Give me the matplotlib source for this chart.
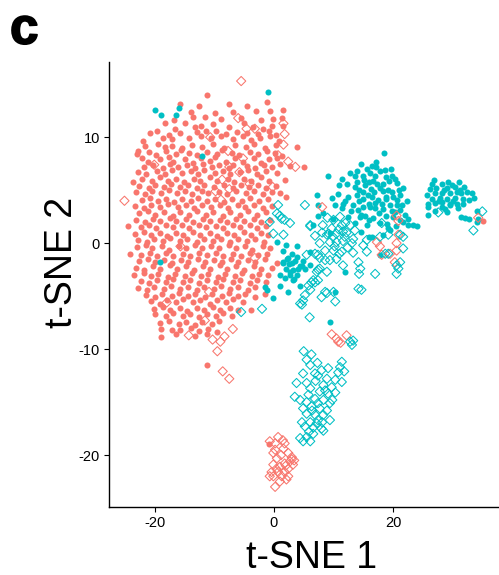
import matplotlib
matplotlib.use("Agg")
import matplotlib.pyplot as plt
import matplotlib.patheffects as pe

plt.rcParams['font.family'] = ['Liberation Sans', 'DejaVu Sans']
plt.rcParams['axes.unicode_minus'] = False

SALMON = '#F8766D'
CYAN = '#00BFC4'

# salmon, filled circles (main cloud)
salmon_dots = [
    (-11.2, 14.0), (-1.2, 13.3), (-7.5, 13.1), (-15.8, 13.1), (-4.5, 12.9), (1.5, 12.6), (-14.0, 12.4),
    (-6.9, 12.4), (-3.0, 12.5), (-0.7, 12.5), (-12.6, 12.9),
    (-16.8, 11.6), (-13.6, 11.9), (-11.5, 11.9), (-8.9, 11.7), (-5.5, 11.8), (-2.2, 11.6), (-0.1, 11.7),
    (1.3, 11.8), (-9.9, 12.3),
    (-18.3, 11.3), (-16.6, 10.8), (-14.9, 11.3), (-13.2, 11.0), (-12.3, 11.1), (-10.2, 11.2), (-7.5, 11.0),
    (-5.0, 11.3), (-3.5, 11.0), (-1.8, 10.8), (-0.4, 11.1), (1.6, 11.1),
    (-20.8, 10.4), (-19.7, 10.6), (-17.6, 10.2), (-15.7, 10.4), (-13.0, 10.5), (-11.4, 10.6), (-9.8, 10.6),
    (-8.1, 10.3), (-6.2, 10.5), (-4.5, 10.4), (-2.6, 10.3), (-0.9, 10.6), (0.4, 10.2),
    (-22.0, 9.6), (-18.6, 9.9), (-17.2, 9.8), (-14.3, 9.9), (-12.3, 10.1), (-10.6, 9.9), (-8.9, 10.1),
    (-6.9, 9.8), (-5.2, 10.1), (-3.8, 9.7), (-2.4, 9.9), (-0.7, 10.1), (0.9, 9.6),
    (-22.8, 8.7), (-21.7, 9.2), (-19.4, 9.4), (-18.3, 9.1), (-17.1, 9.2), (-15.5, 9.0), (-13.8, 9.3),
    (-12.0, 9.1), (-10.2, 9.4), (-8.4, 9.0), (-6.5, 9.3), (-4.7, 9.1), (-3.3, 9.4), (-1.5, 9.0), (0.3, 9.3),
    (3.9, 9.1),
    (-23.0, 8.4), (-20.9, 8.6), (-19.8, 8.3), (-18.1, 8.7), (-16.4, 8.4), (-15.6, 8.8), (-14.2, 8.5),
    (-12.9, 8.3), (-11.3, 8.6), (-9.6, 8.4), (-8.7, 8.8), (-7.1, 8.5), (-5.8, 8.3), (-4.0, 8.6), (-2.7, 8.4),
    (-1.2, 8.7), (0.2, 8.5), (1.4, 8.2),
    (-22.2, 8.0), (-21.1, 7.7), (-19.1, 7.9), (-17.6, 8.1), (-16.9, 7.7), (-15.0, 7.9), (-13.6, 7.6),
    (-12.2, 8.0), (-10.7, 7.8), (-9.9, 8.1), (-8.0, 7.7), (-6.5, 8.0), (-5.2, 7.7), (-3.4, 8.0), (-2.2, 7.6),
    (-0.9, 7.9), (0.6, 8.0),
    (-21.8, 7.2), (-20.3, 7.4), (-18.7, 7.1), (-17.4, 7.5), (-16.1, 7.2), (-14.6, 7.4), (-13.2, 7.1),
    (-11.9, 7.5), (-10.4, 7.2), (-9.3, 7.4), (-7.6, 7.1), (-6.8, 7.4), (-4.6, 7.3), (-3.1, 7.1), (-1.7, 7.4),
    (-0.3, 7.2), (1.1, 7.5), (2.7, 7.3), (5.0, 7.2),
    (-22.9, 6.7), (-21.4, 6.5), (-19.6, 6.8), (-18.3, 6.5), (-17.1, 6.9), (-15.4, 6.6), (-14.0, 6.8),
    (-12.7, 6.5), (-11.7, 6.9), (-9.9, 6.6), (-8.5, 6.8), (-7.3, 6.5), (-5.7, 6.7), (-4.3, 6.9), (-2.9, 6.5),
    (-1.3, 6.8), (0.5, 6.6),
    (-23.7, 5.8), (-22.1, 6.1), (-20.5, 5.9), (-19.2, 6.2), (-17.8, 5.9), (-16.4, 6.1), (-15.1, 5.8),
    (-13.4, 6.1), (-12.4, 5.9), (-10.7, 6.2), (-9.5, 5.9), (-7.7, 6.1), (-6.7, 5.8), (-5.1, 6.1), (-3.8, 5.9),
    (-2.1, 6.2), (-0.8, 5.9), (1.8, 6.0),
    (-22.6, 5.4), (-21.0, 5.2), (-19.9, 5.5), (-18.4, 5.3), (-17.3, 5.6), (-15.7, 5.3), (-14.5, 5.5),
    (-12.9, 5.2), (-11.8, 5.5), (-10.1, 5.3), (-8.4, 5.5), (-6.8, 5.2), (-5.5, 5.5), (-4.2, 5.3), (-2.6, 5.5),
    (-1.4, 5.2), (0.3, 5.4),
    (-23.2, 4.8), (-21.6, 4.6), (-20.4, 4.9), (-18.9, 4.7), (-17.6, 5.0), (-16.2, 4.7), (-14.9, 4.9),
    (-13.7, 4.6), (-12.1, 4.9), (-11.0, 4.7), (-9.2, 4.8), (-7.9, 4.6), (-6.3, 4.9), (-4.7, 4.7), (-3.4, 4.9),
    (-1.9, 4.6), (-0.4, 4.8), (1.0, 4.7),
    (-22.1, 4.1), (-20.8, 4.3), (-19.4, 4.0), (-18.1, 4.2), (-16.7, 3.9), (-15.5, 4.2), (-13.9, 4.0),
    (-12.7, 4.3), (-11.2, 4.0), (-9.9, 4.2), (-8.3, 3.9), (-7.0, 4.2), (-5.4, 4.0), (-4.1, 4.3), (-2.5, 4.0),
    (-1.0, 4.2), (2.0, 4.4),
    (-23.4, 3.5), (-21.9, 3.3), (-20.6, 3.6), (-19.1, 3.4), (-17.8, 3.7), (-16.1, 3.4), (-14.8, 3.6),
    (-13.5, 3.3), (-12.0, 3.6), (-10.6, 3.4), (-9.0, 3.6), (-7.7, 3.3), (-6.1, 3.6), (-4.9, 3.4), (-3.3, 3.6),
    (-1.9, 3.3), (-0.4, 3.5),
    (-22.7, 2.8), (-21.2, 3.0), (-20.0, 2.7), (-18.5, 2.9), (-17.0, 2.6), (-15.8, 2.9), (-14.2, 2.7),
    (-13.0, 3.0), (-11.4, 2.7), (-10.2, 2.9), (-8.6, 2.6), (-7.3, 2.9), (-5.7, 2.7), (-4.4, 3.0), (-2.8, 2.7),
    (-1.3, 2.9),
    (-23.1, 2.2), (-21.7, 2.0), (-20.3, 2.3), (-19.1, 2.1), (-17.5, 2.4), (-16.4, 2.1), (-14.7, 2.3),
    (-13.6, 2.0), (-11.9, 2.3), (-10.8, 2.1), (-9.1, 2.2), (-7.9, 2.0), (-6.3, 2.3), (-5.1, 2.1), (-3.4, 2.3),
    (-2.2, 2.0), (-0.6, 2.2),
    (-24.5, 1.6), (-22.4, 1.5), (-21.0, 1.7), (-19.8, 1.4), (-18.2, 1.7), (-17.0, 1.5), (-15.4, 1.7),
    (-14.2, 1.4), (-12.6, 1.7), (-11.4, 1.5), (-9.8, 1.6), (-8.5, 1.4), (-6.9, 1.7), (-5.7, 1.5), (-4.1, 1.7),
    (-2.9, 1.4), (-1.4, 1.6),
    (-23.3, 0.9), (-21.9, 1.1), (-20.7, 0.8), (-19.1, 1.0), (-17.9, 0.7), (-16.4, 1.0), (-15.2, 0.8),
    (-13.6, 1.1), (-12.4, 0.8), (-10.8, 1.0), (-9.6, 0.7), (-7.9, 1.0), (-6.7, 0.8), (-5.1, 1.1), (-3.9, 0.8),
    (-2.2, 1.0), (-1.0, 0.8),
    (-22.8, 0.3), (-21.3, 0.1), (-20.1, 0.4), (-18.6, 0.2), (-17.4, 0.5), (-15.8, 0.2), (-14.6, 0.4),
    (-13.0, 0.1), (-11.8, 0.4), (-10.2, 0.2), (-8.9, 0.4), (-7.3, 0.1), (-6.1, 0.4), (-4.5, 0.2), (-3.2, 0.4),
    (-1.6, 0.1),
    (-23.0, -0.4), (-21.5, -0.2), (-20.4, -0.5), (-18.8, -0.3), (-17.6, -0.6), (-16.0, -0.3), (-14.8, -0.5),
    (-13.3, -0.2), (-12.1, -0.5), (-10.5, -0.3), (-9.3, -0.5), (-7.6, -0.2), (-6.4, -0.5), (-4.8, -0.3),
    (-3.6, -0.6), (-1.9, -0.3), (-0.6, -0.5),
    (-24.1, -1.0), (-22.3, -1.1), (-20.8, -0.9), (-19.7, -1.2), (-18.1, -0.9), (-16.9, -1.2), (-15.3, -1.0),
    (-14.1, -1.2), (-12.5, -0.9), (-11.3, -1.1), (-9.7, -0.9), (-8.5, -1.2), (-6.9, -1.0), (-5.6, -1.2),
    (-4.0, -0.9), (-2.7, -1.1), (-1.1, -1.0),
    (-22.6, -1.7), (-21.1, -1.5), (-19.9, -1.8), (-18.4, -1.6), (-17.2, -1.9), (-15.6, -1.6), (-14.4, -1.8),
    (-12.8, -1.5), (-11.6, -1.8), (-10.0, -1.6), (-8.8, -1.8), (-7.2, -1.5), (-6.0, -1.8), (-4.3, -1.6),
    (-3.1, -1.8), (-1.5, -1.5), (0.5, -1.9),
    (-23.2, -2.3), (-21.8, -2.5), (-20.3, -2.2), (-19.1, -2.4), (-17.5, -2.1), (-16.3, -2.4), (-14.7, -2.2),
    (-13.5, -2.5), (-11.9, -2.2), (-10.7, -2.4), (-9.1, -2.1), (-7.9, -2.4), (-6.3, -2.2), (-5.0, -2.5),
    (-3.4, -2.2), (-2.1, -2.4), (-0.4, -2.3),
    (-23.5, -3.0), (-21.9, -2.8), (-20.6, -3.1), (-19.4, -2.9), (-17.8, -3.2), (-16.6, -2.9), (-15.0, -3.1),
    (-13.8, -2.8), (-12.2, -3.1), (-11.0, -2.9), (-9.4, -3.2), (-8.2, -2.9), (-6.5, -3.1), (-5.3, -2.8),
    (-3.7, -3.1), (-2.5, -2.9), (-1.0, -3.0),
    (-22.4, -3.6), (-20.9, -3.8), (-19.7, -3.5), (-18.1, -3.7), (-16.9, -3.4), (-15.3, -3.7), (-14.1, -3.5),
    (-12.5, -3.8), (-11.3, -3.5), (-9.7, -3.7), (-8.5, -3.4), (-6.9, -3.7), (-5.7, -3.5), (-4.0, -3.8),
    (-2.8, -3.5), (-1.3, -3.7),
    (-22.8, -4.2), (-21.3, -4.4), (-20.1, -4.1), (-18.5, -4.3), (-17.3, -4.0), (-15.7, -4.3), (-14.5, -4.1),
    (-12.9, -4.4), (-11.7, -4.1), (-10.1, -4.3), (-8.9, -4.0), (-7.3, -4.3), (-6.0, -4.1), (-4.4, -4.4),
    (-3.2, -4.1),
    (-21.5, -4.9), (-20.0, -5.1), (-18.8, -4.8), (-17.2, -5.0), (-16.0, -4.7), (-14.4, -5.0), (-13.2, -4.8),
    (-11.6, -5.1), (-10.4, -4.8), (-8.8, -5.0), (-7.6, -4.7), (-6.0, -5.0), (-4.8, -4.8), (-3.2, -5.1),
    (-1.5, -4.8),
    (-20.6, -5.5), (-19.2, -5.7), (-17.9, -5.4), (-16.4, -5.6), (-15.2, -5.3), (-13.6, -5.6), (-12.4, -5.4),
    (-10.8, -5.7), (-9.6, -5.4), (-8.0, -5.6), (-6.8, -5.3), (-5.2, -5.6),
    (-20.2, -6.2), (-18.6, -6.0), (-17.4, -6.3), (-15.8, -6.1), (-14.6, -6.4), (-13.0, -6.1), (-11.8, -6.3),
    (-10.2, -6.0), (-9.0, -6.3), (-7.3, -6.1), (-6.1, -6.3), (-3.8, -6.3),
    (-20.0, -6.7), (-18.2, -6.9), (-16.9, -6.6), (-15.3, -6.9), (-14.1, -6.7), (-12.5, -7.0), (-11.3, -6.7),
    (-9.7, -6.9), (-8.5, -6.6), (-7.0, -6.9),
    (-19.1, -7.5), (-17.6, -7.3), (-16.0, -7.6), (-14.8, -7.4), (-13.2, -7.7), (-12.0, -7.4), (-10.4, -7.6),
    (-9.2, -7.3),
    (-19.0, -8.1), (-17.1, -8.2), (-15.7, -8.2), (-14.0, -8.0), (-12.6, -8.3), (-11.0, -8.1), (-9.5, -8.4),
    (-19.0, -8.9), (-13.2, -8.8), (-11.2, -8.6), (-16.5, -8.6), (-11.2, -11.5),
    (-0.8, -19.0), (35.1, 2.1),
]

# cyan, filled circles
cyan_dots = [
    (-20.0, 12.6), (-19.0, 12.1), (-16.0, 12.8), (-16.5, 12.1), (-12.0, 8.2), (-1.0, 14.3), (-19.2, -1.8),
    # upper right group
    (18.5, 8.5), (14.6, 7.5), (17.1, 7.7), (17.1, 7.2), (19.6, 7.0), (18.7, 6.9), (17.8, 6.8), (15.6, 7.0),
    (16.1, 6.6), (12.8, 6.6), (9.1, 6.3), (11.4, 6.1), (13.6, 6.3), (14.9, 6.3), (17.0, 6.3), (18.8, 6.2),
    (19.8, 6.3), (12.2, 5.6), (13.9, 5.8), (15.9, 5.8), (17.3, 5.6), (20.6, 5.7), (13.6, 5.3), (15.0, 4.8),
    (16.3, 5.1), (17.8, 5.2), (19.2, 5.0), (21.7, 5.2), (7.3, 4.5), (9.7, 4.3), (12.5, 4.4), (15.0, 4.2),
    (16.4, 4.4), (17.5, 4.1), (18.8, 4.4), (20.0, 4.4), (21.2, 4.5), (22.4, 4.0), (11.6, 3.7), (13.3, 3.6),
    (15.9, 3.7), (18.1, 3.7), (19.5, 3.6), (20.7, 3.6), (11.4, 3.3), (14.2, 3.1), (17.0, 3.3), (21.2, 3.1),
    (12.5, 2.5), (15.3, 2.6), (16.7, 2.4), (18.8, 2.6), (20.0, 2.5), (10.0, 2.3), (7.4, 3.6), (13.6, 1.9),
    (17.8, 1.9), (21.7, 2.0), (23.4, 1.7), (15.6, 1.7),
    (16.5, 7.3), (14.0, 6.8), (15.3, 5.5), (14.3, 5.0), (16.8, 4.8), (18.3, 4.9), (19.9, 4.8), (20.6, 4.1),
    (14.3, 4.0), (13.9, 4.5), (16.2, 3.4), (17.6, 2.8), (18.4, 3.2), (19.8, 3.0), (20.4, 2.9), (21.5, 3.6),
    (22.0, 2.7), (14.6, 2.7), (13.0, 3.0), (12.0, 4.0), (10.8, 4.6), (11.0, 5.5), (8.3, 2.8), (10.3, 3.6),
    (15.2, 6.0), (16.6, 5.9), (18.3, 5.6), (19.4, 5.9), (21.0, 5.0), (20.3, 6.1), (15.8, 4.5), (17.0, 3.8),
    (18.9, 4.2), (15.0, 3.4), (16.0, 2.2), (19.0, 1.8), (20.5, 1.6), (22.5, 2.3), (14.7, 1.1), (16.4, 0.6),
    (19.2, 1.4), (21.2, 2.2), (22.6, 1.7), (19.5, 1.2), (18.4, 0.8), (15.9, 0.6), (17.8, -1.1), (14.5, 2.5),
    (7.4, 2.6), (6.6, 1.7), (9.5, 1.0), (11.9, -2.7), (10.3, -4.6), (9.4, -7.4), (24.0, 1.6),
    # middle group
    (0.5, 0.1), (3.8, -0.3), (1.6, -1.8), (2.4, -1.4), (3.0, -1.9), (3.8, -1.3), (4.4, -2.2), (5.2, -2.4),
    (6.1, -2.1), (2.1, -2.4), (3.2, -2.5), (2.7, -3.0), (3.2, -3.5), (4.4, -4.0), (1.0, -3.0), (1.0, -4.0),
    (-0.1, -5.2), (-1.2, -4.4), (-1.5, -4.1), (2.4, -4.6), (1.6, -0.7), (6.1, -0.8), (3.0, -1.0), (2.2, -1.5),
    (4.1, -2.4), (4.7, -2.2), (2.7, -2.7), (3.3, -3.4), (1.5, -1.9), (2.0, -0.2), (2.6, -2.0), (3.6, -1.7),
    (3.9, -3.0), (1.9, -3.3), (4.9, -1.7),
    # far right group
    (26.8, 6.0), (26.5, 5.6), (28.2, 5.6), (29.9, 5.5), (31.0, 5.8), (30.4, 5.3), (27.3, 5.2), (29.0, 5.2),
    (25.7, 4.5), (27.1, 4.7), (28.2, 4.7), (29.6, 4.7), (30.7, 4.8), (31.5, 4.7), (32.4, 4.8), (33.2, 4.7),
    (26.5, 4.2), (27.9, 4.3), (29.0, 4.2), (30.4, 4.3), (31.8, 4.2), (32.7, 4.1), (25.9, 3.7), (27.1, 3.8),
    (28.2, 3.9), (29.6, 3.7), (30.7, 3.7), (31.8, 3.7), (25.8, 3.4), (28.2, 3.4), (29.5, 3.6), (27.1, 3.0),
    (25.9, 2.7), (29.1, 2.9), (31.5, 2.5), (32.1, 2.4), (32.7, 2.3), (34.1, 3.0), (34.3, 2.3), (34.1, 2.0),
    (28.6, 5.0), (30.0, 4.0), (31.2, 5.0), (32.0, 5.3), (27.7, 4.0), (26.2, 5.1), (33.6, 4.3), (29.3, 5.8),
    (28.8, 3.2), (30.9, 3.3),
]

# salmon, open diamonds
salmon_diamonds = [
    (-5.5, 15.3), (-6.0, 11.8), (-4.6, 10.8), (-3.2, 10.8), (1.6, 11.3), (1.8, 10.3), (1.6, 9.3), (0.7, 8.3),
    (2.4, 7.7), (3.6, 7.2), (-10.7, 10.0), (-7.7, 8.7), (-5.2, 8.0), (-7.5, 7.2), (-5.8, 6.7), (-8.7, 6.0),
    (-9.8, 4.9), (-8.9, 4.1), (-7.5, 5.1), (-4.1, 5.6), (-0.2, 5.3), (-20.1, 7.4), (-25.1, 4.0),
    (-15.7, -0.3), (-3.2, -1.4), (-18.0, -5.6), (-10.9, -4.6), (-11.6, -7.3), (-14.3, -8.7), (-9.5, -10.2),
    (-10.3, -9.1), (-8.3, -8.8), (-6.9, -8.1), (-8.6, -12.1), (-7.5, -12.8), (-9.0, -9.3),
    (8.1, 3.4), (17.3, 0.1), (17.8, -0.3), (18.1, -1.1), (19.5, -1.0), (20.6, 0.0), (20.9, 0.8), (20.6, 2.6),
    (20.3, -1.8), (20.6, -0.7), (20.9, 2.1), (34.3, 2.4),
    (9.7, -8.6), (10.5, -9.0), (12.2, -8.7), (10.8, -9.3), (11.2, -9.4),
    # bottom group
    (-0.7, -18.7), (0.7, -18.3), (0.2, -18.9), (1.8, -18.9), (1.6, -19.4), (-0.1, -19.8), (2.4, -19.8),
    (3.0, -20.2), (0.5, -20.3), (2.7, -20.6), (1.8, -20.8), (-0.1, -20.9), (1.0, -21.1), (2.4, -21.3),
    (3.2, -20.9), (-0.4, -21.6), (0.7, -21.6), (1.8, -21.6), (-0.1, -22.0), (1.3, -22.0), (2.4, -22.0),
    (0.2, -23.0), (1.0, -22.5), (2.1, -22.3), (-0.7, -22.0), (0.2, -19.5), (3.0, -20.4), (1.2, -20.0),
    (0.4, -21.3), (2.0, -21.0), (3.4, -20.5), (1.5, -18.6),
]

# cyan, open diamonds
cyan_diamonds = [
    (0.7, 3.6), (1.0, 2.6), (1.8, 2.2), (2.7, 1.9), (-0.7, 2.0), (-0.1, 0.9), (1.6, 0.8), (5.2, 3.6),
    (6.1, 1.7), (0.5, 2.8), (1.3, 2.3),
    (6.1, 1.6), (8.2, 1.7), (10.0, 2.2), (11.1, 2.5), (9.7, 1.4), (11.4, 1.7), (12.8, 1.7), (6.9, 0.7),
    (8.9, 0.8), (10.5, 0.9), (12.2, 1.0), (13.6, 1.2), (7.7, 0.0), (9.4, 0.1), (10.5, 0.1), (11.6, 0.2),
    (13.1, 0.0), (15.0, -0.2), (8.6, -0.7), (10.0, -0.7), (11.4, -0.8), (13.3, -0.9), (15.6, -0.8),
    (7.4, -1.1), (9.4, -1.6), (10.5, -1.5), (14.2, -1.8), (5.5, -1.1), (11.6, -2.1), (14.5, -2.4),
    (14.3, -2.9), (17.0, -2.9), (7.4, -2.5), (8.9, -2.7), (6.6, -3.5), (5.8, -4.0), (6.9, -3.7), (5.2, -4.9),
    (4.9, -5.4), (4.7, -5.8), (8.6, -4.6), (10.0, -4.6), (8.0, -5.1), (10.3, -5.5), (14.2, -4.3),
    (14.7, -4.4), (20.6, -2.1), (20.9, -2.4), (20.6, -2.9), (21.2, -1.8), (15.6, 0.3), (17.8, 0.6),
    (19.2, 0.8), (21.7, 0.6), (21.7, -0.5), (18.7, -1.0), (13.3, 0.4), (19.2, -1.0), (18.1, 1.9), (21.2, 0.8),
    (6.1, -4.4), (6.3, -3.7), (7.4, -3.5), (7.2, -2.7), (7.7, -2.4), (8.9, -4.7), (6.9, -1.0), (7.7, -1.4),
    (8.6, -1.6), (9.9, 0.6), (10.9, 1.3), (11.9, 0.6), (9.2, 0.9), (10.2, -0.3), (11.0, -1.0), (12.4, -0.4),
    (12.0, 1.9), (9.0, 2.4), (8.1, 1.0), (11.6, 1.1),
    (-5.5, -6.5), (-2.0, -6.2), (4.4, -5.7), (6.0, -7.0), (13.1, -9.6), (13.3, -9.2), (12.8, -9.3),
    (35.0, 3.0), (33.5, 1.2), (27.6, 2.9),
    # lower group
    (5.0, -10.2), (6.3, -10.5), (5.5, -11.0), (7.3, -11.3), (6.1, -11.5), (9.1, -11.8), (11.4, -11.2),
    (11.1, -11.7), (11.8, -12.1), (10.8, -12.2), (4.9, -12.3), (6.9, -12.3), (7.4, -12.5), (8.9, -12.8),
    (10.3, -12.9), (11.4, -13.1), (3.8, -13.2), (5.5, -13.2), (8.3, -13.4), (9.7, -13.6), (9.1, -14.2),
    (7.7, -14.0), (6.1, -13.7), (10.3, -14.1), (3.5, -14.5), (4.4, -14.8), (5.5, -15.0), (6.9, -14.7),
    (8.3, -14.8), (9.4, -15.1), (4.9, -15.6), (6.3, -15.4), (7.7, -15.6), (8.9, -15.8), (5.5, -16.1),
    (6.9, -16.2), (8.3, -16.2), (9.4, -16.7), (4.7, -16.9), (6.1, -16.9), (7.4, -16.7), (5.2, -17.3),
    (6.6, -17.4), (8.0, -17.5), (8.3, -17.7), (4.4, -18.4), (5.5, -18.3), (6.6, -18.0), (6.1, -18.7),
    (4.9, -18.7), (7.4, -15.1), (8.6, -13.9), (7.0, -13.0), (8.0, -12.0), (5.8, -14.3), (7.2, -17.0),
    (5.9, -17.8), (9.8, -14.8), (8.1, -16.9), (6.4, -15.8),
]

xticks = [-20, 0, 20]
yticks = [-20, -10, 0, 10]

fig = plt.figure(figsize=(4.99, 5.75), dpi=100)
ax = fig.add_axes([0.2184, 0.1183, 0.7816, 0.7739])

def xs(pts):
    return [p[0] for p in pts]

def ys(pts):
    return [p[1] for p in pts]

ax.scatter(xs(salmon_dots), ys(salmon_dots), s=19, c=SALMON, marker='o', linewidths=0)
ax.scatter(xs(cyan_dots), ys(cyan_dots), s=19, c=CYAN, marker='o', linewidths=0)
ax.scatter(xs(salmon_diamonds), ys(salmon_diamonds), s=22, facecolors='none',
           edgecolors=SALMON, marker='D', linewidths=0.75)
ax.scatter(xs(cyan_diamonds), ys(cyan_diamonds), s=22, facecolors='none',
           edgecolors=CYAN, marker='D', linewidths=0.75)

ax.set_xlim(-27.7, 37.8)
ax.set_ylim(-24.9, 17.1)
ax.set_xticks(xticks)
ax.set_yticks(yticks)
ax.tick_params(length=3.5, width=0.8, labelsize=10.5, colors='black', pad=3)

for side in ['top', 'right']:
    ax.spines[side].set_visible(False)
for side in ['left', 'bottom']:
    ax.spines[side].set_linewidth(1.0)

ax.set_xlabel('t-SNE 1', fontsize=27)
ax.set_ylabel('t-SNE 2', fontsize=27)
ax.xaxis.set_label_coords(0.52, -0.075)
ax.yaxis.set_label_coords(-0.075, 0.55)

fig.text(0.02, 0.924, 'c', fontsize=37, fontweight='bold', va='baseline', ha='left',
         path_effects=[pe.withStroke(linewidth=1.2, foreground='black')])

fig.savefig('out.png', dpi=100)
